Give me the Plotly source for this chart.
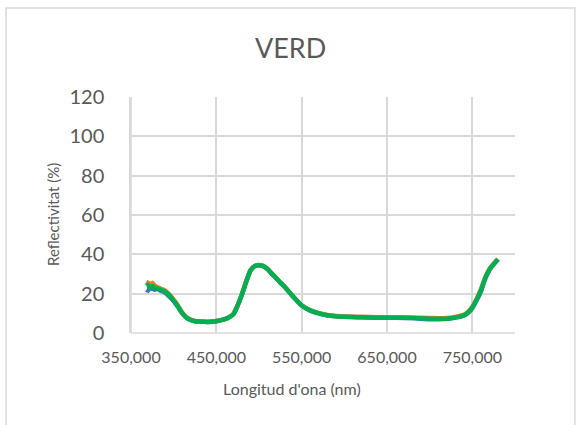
import plotly.graph_objects as go

# Wavelength samples (nm) and reflectance (%) of the three measurements
wavelength = [368, 370, 372, 375, 378, 380, 385, 390, 395, 400, 405, 410, 415, 420,
              425, 430, 440, 450, 460, 465, 470, 475, 480, 485, 490, 495, 500, 505,
              510, 515, 520, 525, 530, 540, 550, 560, 570, 580, 590, 600, 620, 640,
              660, 680, 700, 710, 720, 730, 740, 745, 750, 755, 760, 765, 770, 775, 780]

mesura_1 = [22.0, 21.5, 23.0, 22.5, 22.0, 22.5, 21.5, 20.5, 18.5, 16.3, 13.3, 10.0, 7.8, 6.6,
            6.0, 5.8, 5.6, 6.0, 7.0, 8.0, 9.6, 14.0, 19.6, 26.0, 31.8, 34.0, 34.5, 34.0,
            32.5, 30.2, 28.0, 25.6, 23.5, 18.5, 14.0, 11.4, 10.0, 9.0, 8.5, 8.2, 8.0, 7.8,
            7.8, 7.6, 7.0, 7.0, 7.2, 7.8, 8.8, 10.2, 12.6, 16.5, 21.0, 27.5, 32.0, 35.0, 37.4]

mesura_2 = [26.0, 25.5, 24.5, 25.5, 24.0, 23.5, 22.5, 21.5, 19.5, 17.0, 14.0, 10.5, 8.0, 6.8,
            6.1, 5.9, 5.7, 6.1, 7.1, 8.1, 9.7, 14.1, 19.8, 26.2, 31.9, 34.1, 34.6, 34.1,
            32.6, 30.3, 28.1, 25.7, 23.6, 18.6, 14.1, 11.6, 10.1, 9.2, 8.7, 8.4, 8.2, 8.0,
            7.9, 7.8, 7.6, 7.5, 7.6, 8.2, 9.2, 10.7, 13.3, 17.3, 22.2, 28.1, 32.4, 35.2, 37.6]

mesura_3 = [24.0, 24.5, 23.0, 24.0, 23.0, 22.8, 22.0, 21.0, 19.0, 16.5, 13.5, 10.1, 7.8, 6.6,
            6.0, 5.8, 5.6, 6.0, 7.0, 8.0, 9.6, 14.0, 19.6, 26.0, 31.8, 34.0, 34.5, 34.0,
            32.5, 30.2, 28.0, 25.6, 23.5, 18.5, 14.0, 11.5, 10.0, 9.0, 8.5, 8.2, 8.0, 7.8,
            7.8, 7.6, 7.3, 7.2, 7.3, 7.9, 9.0, 10.5, 13.0, 17.0, 21.6, 27.8, 32.2, 35.0, 37.5]

series = [("Mesura 1", mesura_1, "#4472C4"),
          ("Mesura 2", mesura_2, "#ED7D31"),
          ("Mesura 3", mesura_3, "#00B050")]

x_ticks = [350, 450, 550, 650, 750]
y_ticks = [0, 20, 40, 60, 80, 100, 120]

fig = go.Figure()
for name, values, color in series:
    fig.add_trace(go.Scatter(
        x=wavelength, y=values, name=name, mode="lines",
        line=dict(color=color, width=4.5, shape="spline", smoothing=0.6),
    ))

grid = "#d9d9d9"
text_col = "#595959"
font_family = "Lato, 'Open Sans', sans-serif"

fig.update_layout(
    width=578, height=425,
    margin=dict(l=131, r=63, t=97, b=92),
    paper_bgcolor="white", plot_bgcolor="white",
    separators=",.",
    showlegend=False,
    font=dict(family=font_family, color=text_col),
    xaxis=dict(
        range=[350, 800], tickvals=x_ticks, tickformat=".3f",
        showgrid=True, gridcolor=grid, gridwidth=1.5,
        showline=False, zeroline=False,
        ticks="", ticklabelstandoff=13,
        tickfont=dict(size=16, color=text_col),
    ),
    yaxis=dict(
        range=[0, 120], tickvals=y_ticks,
        showgrid=True, gridcolor=grid, gridwidth=1.5,
        showline=True, linecolor=grid, linewidth=1.5,
        zeroline=False, ticks="", ticklabelstandoff=21,
        tickfont=dict(size=20, color=text_col),
    ),
    shapes=[
        # outer chart frame
        dict(type="rect", xref="paper", yref="paper",
             x0=-0.3255, x1=1.156, y0=-0.45, y1=1.377,
             line=dict(color=grid, width=1.5), fillcolor="rgba(0,0,0,0)", layer="below"),
        # vertical axis line at the left edge of the plot
        dict(type="line", xref="paper", yref="paper", x0=0, x1=0, y0=0, y1=1,
             line=dict(color=grid, width=1.5), layer="below"),
        # horizontal axis line at zero
        dict(type="line", xref="paper", yref="paper", x0=0, x1=1, y0=0, y1=0,
             line=dict(color=grid, width=1.5), layer="below"),
    ],
    annotations=[
        dict(text="VERD", xref="paper", yref="paper", x=(290.5 - 131) / 384,
             y=1 + (97 - 48) / 236, showarrow=False, xanchor="center", yanchor="middle",
             font=dict(size=27, color=text_col, family=font_family)),
        dict(text="Longitud d'ona (nm)", xref="paper", yref="paper",
             x=(292 - 131) / 384, y=-(388 - 333) / 236, showarrow=False,
             xanchor="center", yanchor="middle",
             font=dict(size=16, color=text_col, family=font_family)),
        dict(text="Reflectivitat (%)", xref="paper", yref="paper",
             x=-(131 - 53) / 384, y=0.5, showarrow=False, textangle=-90,
             xanchor="center", yanchor="middle",
             font=dict(size=15, color=text_col, family=font_family)),
    ],
)

fig.write_html("out.html")
